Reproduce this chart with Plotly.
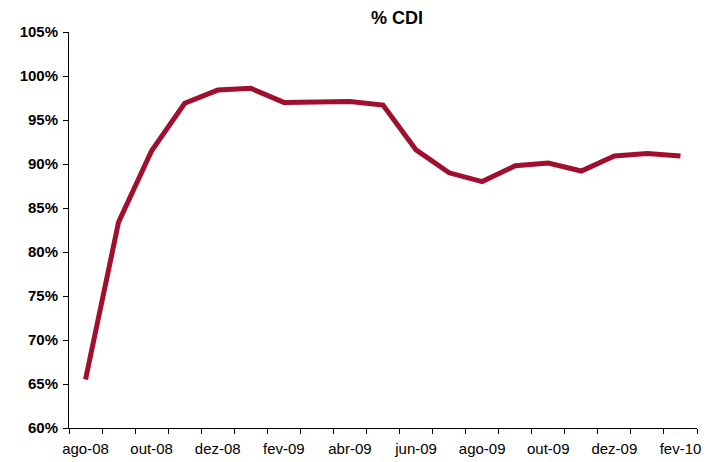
import plotly.graph_objects as go

months = ["ago-08", "set-08", "out-08", "nov-08", "dez-08", "jan-09", "fev-09",
          "mar-09", "abr-09", "mai-09", "jun-09", "jul-09", "ago-09", "set-09",
          "out-09", "nov-09", "dez-09", "jan-10", "fev-10"]
cdi_pct = [65.5, 83.4, 91.5, 96.9, 98.4, 98.6, 97.0, 97.05, 97.1, 96.7,
           91.6, 89.0, 88.0, 89.8, 90.1, 89.2, 90.9, 91.2, 90.9]
y_ticks = [60, 65, 70, 75, 80, 85, 90, 95, 100, 105]

x_idx = list(range(len(months)))

# The page body has an 8px margin; size the figure so the visible result is 711x462
OFF = 8
W, H = 711 - OFF, 462 - OFF

fig = go.Figure()
fig.add_trace(go.Scatter(
    x=x_idx, y=cdi_pct, mode="lines",
    line=dict(color="#A00F2E", width=5),
    hoverinfo="skip", showlegend=False,
))

fig.update_layout(
    width=W, height=H,
    margin=dict(l=69 - OFF, r=14, t=32 - OFF, b=34),
    paper_bgcolor="white", plot_bgcolor="white",
    font=dict(family="Liberation Sans, Arial, sans-serif", color="#000"),
    title=dict(text="<b>% CDI</b>", x=(397 - OFF) / W, xanchor="center",
               y=1 - (18 - OFF) / H, yanchor="middle",
               font=dict(size=18, color="#000")),
    xaxis=dict(
        range=[-0.5, len(months) - 0.5],
        tickmode="array", tickvals=x_idx[::2], ticktext=months[::2],
        ticks="", showgrid=False, zeroline=False, automargin=False,
        showline=True, linecolor="#000", linewidth=1,
        ticklabelstandoff=7,
        tickfont=dict(size=15, color="#000"),
        minor=dict(tickmode="array",
                   tickvals=[i - 0.5 for i in range(len(months) + 1)],
                   ticks="outside", ticklen=5, tickcolor="#000",
                   tickwidth=1, showgrid=False),
    ),
    yaxis=dict(
        range=[60, 105], tickmode="array", tickvals=y_ticks,
        ticktext=[f"<b>{v}%</b>" for v in y_ticks],
        ticks="outside", ticklen=5, tickcolor="#000",
        showgrid=False, zeroline=False, automargin=False,
        showline=True, linecolor="#000", linewidth=1,
        ticklabelstandoff=2,
        tickfont=dict(size=15, color="#000"),
    ),
)

fig.write_html("out.html")
